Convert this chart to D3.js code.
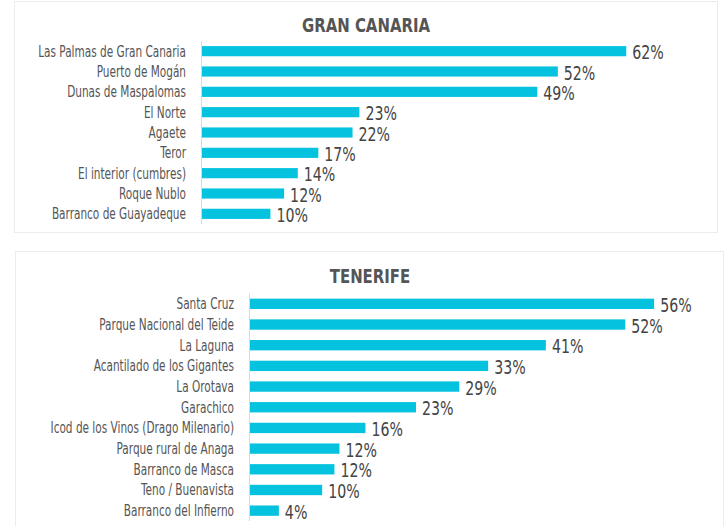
<!DOCTYPE html>
<html>
<head>
<meta charset="utf-8">
<script src="https://cdn.jsdelivr.net/npm/d3@7"></script>
<style>
  html, body { margin: 0; padding: 0; background: #fff; }
  svg { display: block; }
  text { font-family: "DejaVu Sans Condensed", "DejaVu Sans", sans-serif; }
</style>
</head>
<body>
<svg id="chart" width="728" height="526"></svg>
<script>
// ── Data ────────────────────────────────────────────────────────────────
const gcTitle = 'GRAN CANARIA';
const gcPlaces = ['Las Palmas de Gran Canaria', 'Puerto de Mogán', 'Dunas de Maspalomas',
  'El Norte', 'Agaete', 'Teror', 'El interior (cumbres)', 'Roque Nublo', 'Barranco de Guayadeque'];
const gcValues = [62, 52, 49, 23, 22, 17, 14, 12, 10];

const tfTitle = 'TENERIFE';
const tfPlaces = ['Santa Cruz', 'Parque Nacional del Teide', 'La Laguna', 'Acantilado de los Gigantes',
  'La Orotava', 'Garachico', 'Icod de los Vinos (Drago Milenario)', 'Parque rural de Anaga',
  'Barranco de Masca', 'Teno / Buenavista', 'Barranco del Infierno'];
// bar lengths; labels show the rounded figure
const tfValues = [56, 52, 41, 33, 29, 23, 16, 12.4, 11.7, 10, 4];

const BAR = '#05c3de';
const svg = d3.select('#chart');

// place text at (x,y) with a horizontal squeeze to mimic the condensed face
const at = (x, y, k) => `translate(${x},${y}) scale(${k},1)`;

function panel(cfg) {
  const g = svg.append('g');
  const rows = cfg.places.map((p, i) => ({ name: p, v: cfg.values[i] }));

  g.append('rect')
    .attr('x', cfg.box[0] + 0.5).attr('y', cfg.box[1] + 0.5)
    .attr('width', cfg.box[2]).attr('height', cfg.box[3])
    .attr('fill', '#fff').attr('stroke', '#ececec');

  g.append('text')
    .attr('transform', at(cfg.titleX, cfg.titleY, 0.83))
    .attr('text-anchor', 'middle')
    .attr('font-size', 20).attr('font-weight', 'bold')
    .attr('fill', '#555')
    .text(cfg.title);

  const y = d3.scaleBand().domain(cfg.places).range(cfg.yRange).paddingInner(0.5).paddingOuter(0.25);
  const x = d3.scaleLinear().domain([0, cfg.xMax]).range(cfg.xRange);

  g.selectAll('rect.bar').data(rows).join('rect')
    .attr('class', 'bar')
    .attr('x', x(0))
    .attr('y', d => y(d.name))
    .attr('width', d => x(d.v) - x(0))
    .attr('height', y.bandwidth())
    .attr('fill', BAR);

  g.append('line')
    .attr('x1', x(0) - 0.5).attr('x2', x(0) - 0.5)
    .attr('y1', cfg.yRange[0]).attr('y2', cfg.yRange[1])
    .attr('stroke', '#d9d9d9').attr('stroke-width', 1);

  g.selectAll('text.cat').data(rows).join('text')
    .attr('class', 'cat')
    .attr('transform', d => at(x(0) - 16, y(d.name) + y.bandwidth() / 2 + 5.5, 0.78))
    .attr('text-anchor', 'end')
    .attr('font-size', 15).attr('fill', '#555')
    .text(d => d.name);

  g.selectAll('text.val').data(rows).join('text')
    .attr('class', 'val')
    .attr('transform', d => at(x(d.v) + 6, y(d.name) + y.bandwidth() / 2 + 8, 0.83))
    .attr('font-size', 19).attr('fill', '#444')
    .text(d => Math.round(d.v) + '%');
}

panel({ title: gcTitle, places: gcPlaces, values: gcValues, box: [14, 1, 703, 231],
  titleX: 366, titleY: 32, yRange: [41, 224], xMax: 70, xRange: [202, 681] });
panel({ title: tfTitle, places: tfPlaces, values: tfValues, box: [15, 251, 708, 290],
  titleX: 370, titleY: 283, yRange: [293.5, 521], xMax: 60, xRange: [250, 683] });
</script>
</body>
</html>
